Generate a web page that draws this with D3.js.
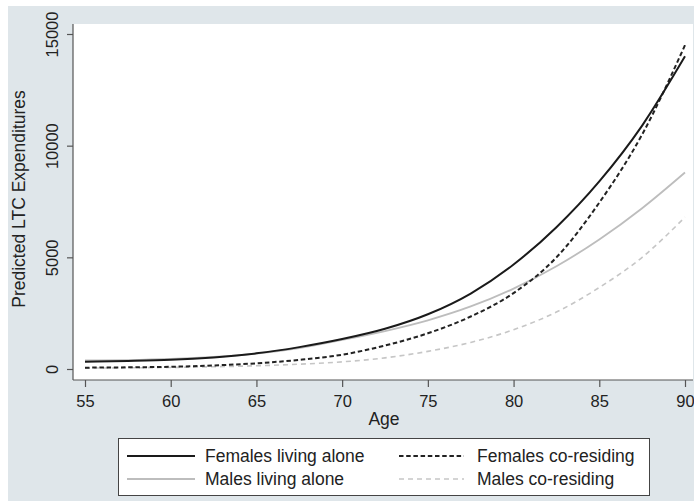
<!DOCTYPE html>
<html>
<head>
<meta charset="utf-8">
<script src="https://cdn.jsdelivr.net/npm/d3@7"></script>
<style>
html,body{margin:0;padding:0;background:#fff;}
svg{display:block;font-family:"Liberation Sans",Arial,sans-serif;}
</style>
</head>
<body>
<svg id="chart" width="694" height="501"></svg>
<script>
const ages = [55,57.5,60,62.5,65,67.5,70,72.5,75,77.5,80,82.5,85,87.5,90];
const femalesAlone = [330,360,410,520,700,980,1340,1800,2450,3380,4680,6350,8400,10900,14000];
const femalesCo = [60,75,100,160,255,410,640,1050,1600,2350,3400,5000,7450,10500,14500];
const malesAlone = [380,400,450,540,690,940,1300,1700,2180,2800,3600,4600,5800,7200,8800];
const malesCo = [40,52,70,100,145,215,320,500,790,1190,1760,2550,3650,5000,6800];
const xTicks = [55,60,65,70,75,80,85,90];
const yTicks = [0,5000,10000,15000];
const seriesNames = ["Females living alone","Males living alone","Females co-residing","Males co-residing"];

const svg = d3.select("#chart");
svg.append("rect").attr("x",8).attr("y",6).attr("width",686).attr("height",495).attr("fill","#dfe6ea");
const plot = {l:73, t:24, r:693, b:380};
svg.append("rect").attr("x",plot.l).attr("y",plot.t).attr("width",plot.r-plot.l).attr("height",plot.b-plot.t).attr("fill","#fff");

const x = d3.scaleLinear().domain([55,90]).range([85,685]);
const y = d3.scaleLinear().domain([0,15000]).range([369,34]);

const ax = svg.append("g").attr("transform",`translate(0,${plot.b})`)
  .call(d3.axisBottom(x).tickValues(xTicks).tickFormat(d3.format("d")).tickSize(7).tickPadding(8).tickSizeOuter(0));
ax.select(".domain").attr("d",`M${plot.l},0H${plot.r}`);
const ay = svg.append("g").attr("transform",`translate(${plot.l},0)`)
  .call(d3.axisLeft(y).tickValues(yTicks).tickFormat(d3.format("d")).tickSize(6).tickSizeOuter(0));
ay.select(".domain").attr("d",`M0,${plot.t}V${plot.b}`);
svg.selectAll(".domain").attr("stroke","#555").attr("stroke-width",1.2);
svg.selectAll(".tick line").attr("stroke","#555").attr("stroke-width",1.2);
ax.selectAll(".tick text").attr("font-size",16.5).attr("fill","#222").attr("font-family","Liberation Sans, Arial, sans-serif").attr("dy","0.71em");
ay.selectAll(".tick text").attr("font-size",16.5).attr("fill","#222").attr("font-family","Liberation Sans, Arial, sans-serif")
  .attr("x",null).attr("dy",null).attr("text-anchor","middle")
  .attr("transform","translate(-15,0) rotate(-90)");

svg.append("text").attr("x",384).attr("y",425).attr("text-anchor","middle").attr("font-size",17.5).attr("fill","#222").text("Age");
svg.append("text").attr("transform","translate(25,199) rotate(-90)").attr("text-anchor","middle").attr("font-size",17.5).attr("fill","#222").text("Predicted LTC Expenditures");

const styles = [
  {data:malesCo, stroke:"#c6c6c6", w:1.6, dash:"5,4"},
  {data:malesAlone, stroke:"#bdbdbd", w:1.8, dash:null},
  {data:femalesCo, stroke:"#222", w:2, dash:"4.5,2.7"},
  {data:femalesAlone, stroke:"#1a1a1a", w:2, dash:null}
];
const line = d3.line().x(d=>x(d[0])).y(d=>y(d[1])).curve(d3.curveMonotoneX);
styles.forEach(s=>{
  svg.append("path").datum(ages.map((a,i)=>[a,s.data[i]]))
    .attr("d",line).attr("fill","none").attr("stroke",s.stroke).attr("stroke-width",s.w)
    .attr("stroke-dasharray",s.dash);
});

svg.append("rect").attr("x",118.5).attr("y",438.5).attr("width",531).attr("height",57).attr("fill","#fff").attr("stroke","#444").attr("stroke-width",1);
const leg = [
  {name:seriesNames[0], x1:127, x2:195, tx:205, y:456, s:styles[3]},
  {name:seriesNames[1], x1:127, x2:195, tx:205, y:479, s:styles[1]},
  {name:seriesNames[2], x1:399, x2:464, tx:477, y:456, s:styles[2]},
  {name:seriesNames[3], x1:399, x2:464, tx:477, y:479, s:styles[0]}
];
leg.forEach(l=>{
  svg.append("line").attr("x1",l.x1).attr("x2",l.x2).attr("y1",l.y).attr("y2",l.y)
    .attr("stroke",l.s.stroke).attr("stroke-width",l.s.w).attr("stroke-dasharray",l.s.dash);
  svg.append("text").attr("x",l.tx).attr("y",l.y+6).attr("font-size",17.5).attr("fill","#222").text(l.name);
});
</script>
</body>
</html>
